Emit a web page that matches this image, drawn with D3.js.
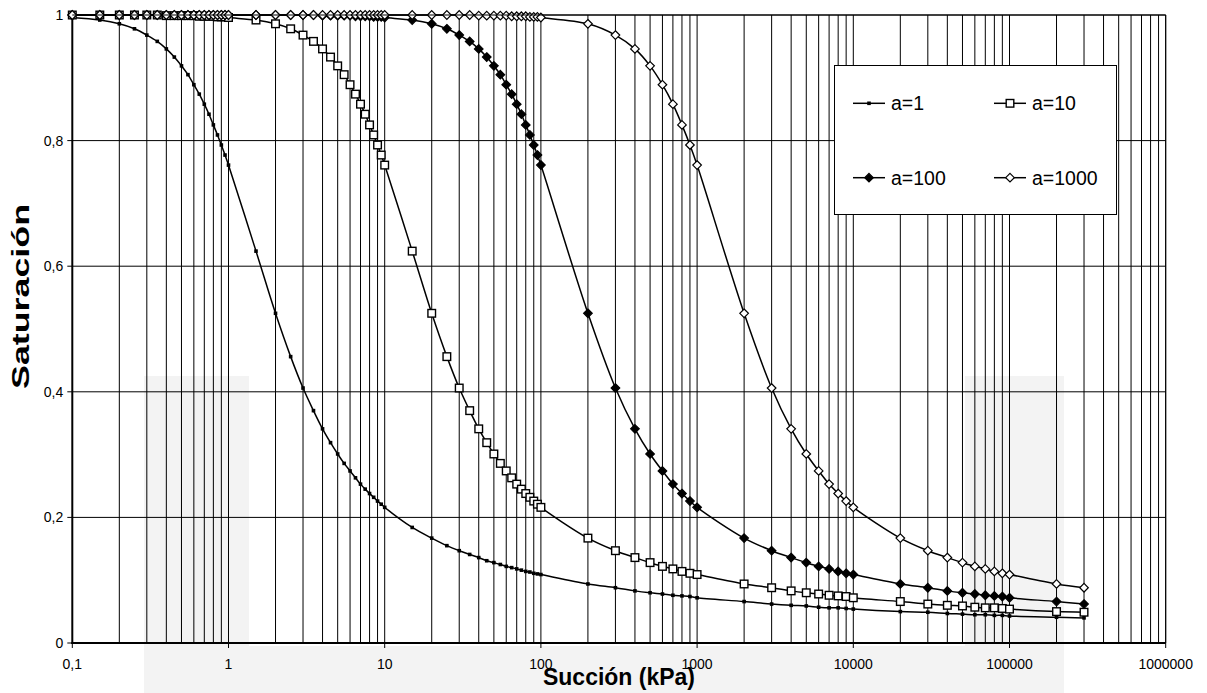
<!DOCTYPE html>
<html lang="es">
<head>
<meta charset="UTF-8">
<title>Saturación vs Succión</title>
<script src="https://d3js.org/d3.v7.min.js"></script>
<style>
  body { margin: 0; background: #fff; }
  svg { display: block; font-family: Arial, "Liberation Sans", sans-serif; }
  .grid line { stroke: #000; stroke-width: 1; }
  .tick-label { font-size: 14px; fill: #000; }
  .title { font-weight: bold; fill: #000; }
  .legend text { font-size: 19.5px; fill: #000; }
</style>
</head>
<body>
<svg id="chart" width="1207" height="693"></svg>
<script>
// suction values (kPa) shared by every curve
const suction = [
  0.1, 0.15, 0.2, 0.25, 0.3, 0.35, 0.4, 0.45, 0.5, 0.55, 0.6, 0.65, 0.7, 0.75, 0.8, 0.85, 0.9, 0.95, 1,
  1.5, 2, 2.5, 3, 3.5, 4, 4.5, 5, 5.5, 6, 6.5, 7, 7.5, 8, 8.5, 9, 9.5, 10,
  15, 20, 25, 30, 35, 40, 45, 50, 55, 60, 65, 70, 75, 80, 85, 90, 95, 100,
  200, 300, 400, 500, 600, 700, 800, 900, 1000,
  2000, 3000, 4000, 5000, 6000, 7000, 8000, 9000, 10000,
  20000, 30000, 40000, 50000, 60000, 70000, 80000, 90000, 100000,
  200000, 300000
];

const sat1 = [
  0.996, 0.992, 0.986, 0.978, 0.968, 0.958, 0.946, 0.933, 0.919, 0.905, 0.889, 0.874, 0.858, 0.842, 0.825, 0.809, 0.793, 0.777, 0.761,
  0.624, 0.525, 0.456, 0.406, 0.370, 0.341, 0.319, 0.301, 0.286, 0.274, 0.263, 0.253, 0.245, 0.238, 0.232, 0.226, 0.221, 0.216,
  0.184, 0.167, 0.155, 0.147, 0.141, 0.136, 0.131, 0.128, 0.125, 0.122, 0.120, 0.118, 0.116, 0.114, 0.113, 0.111, 0.110, 0.109,
  0.094, 0.088, 0.083, 0.080, 0.078, 0.076, 0.075, 0.074, 0.072,
  0.066, 0.062, 0.060, 0.059, 0.057, 0.056, 0.056, 0.055, 0.054,
  0.050, 0.049, 0.047, 0.046, 0.045, 0.045, 0.044, 0.044, 0.043,
  0.041, 0.040
];

const sat10 = [
  1.000, 1.000, 1.000, 1.000, 1.000, 1.000, 0.999, 0.999, 0.999, 0.999, 0.999, 0.998, 0.998, 0.998, 0.998, 0.997, 0.997, 0.997, 0.996,
  0.992, 0.986, 0.978, 0.968, 0.958, 0.946, 0.933, 0.919, 0.905, 0.889, 0.874, 0.858, 0.842, 0.825, 0.809, 0.793, 0.777, 0.761,
  0.624, 0.525, 0.456, 0.406, 0.370, 0.341, 0.319, 0.301, 0.286, 0.274, 0.263, 0.253, 0.245, 0.238, 0.232, 0.226, 0.221, 0.216,
  0.167, 0.147, 0.136, 0.128, 0.122, 0.118, 0.114, 0.111, 0.109,
  0.094, 0.088, 0.083, 0.080, 0.078, 0.076, 0.075, 0.074, 0.072,
  0.066, 0.062, 0.060, 0.059, 0.057, 0.056, 0.056, 0.055, 0.054,
  0.050, 0.049
];

const sat100 = [
  1.000, 1.000, 1.000, 1.000, 1.000, 1.000, 1.000, 1.000, 1.000, 1.000, 1.000, 1.000, 1.000, 1.000, 1.000, 1.000, 1.000, 1.000, 1.000,
  1.000, 1.000, 1.000, 1.000, 1.000, 0.999, 0.999, 0.999, 0.999, 0.999, 0.998, 0.998, 0.998, 0.998, 0.997, 0.997, 0.997, 0.996,
  0.992, 0.986, 0.978, 0.968, 0.958, 0.946, 0.933, 0.919, 0.905, 0.889, 0.874, 0.858, 0.842, 0.825, 0.809, 0.793, 0.777, 0.761,
  0.525, 0.406, 0.341, 0.301, 0.274, 0.253, 0.238, 0.226, 0.216,
  0.167, 0.147, 0.136, 0.128, 0.122, 0.118, 0.114, 0.111, 0.109,
  0.094, 0.088, 0.083, 0.080, 0.078, 0.076, 0.075, 0.074, 0.072,
  0.066, 0.062
];

const sat1000 = [
  1.000, 1.000, 1.000, 1.000, 1.000, 1.000, 1.000, 1.000, 1.000, 1.000, 1.000, 1.000, 1.000, 1.000, 1.000, 1.000, 1.000, 1.000, 1.000,
  1.000, 1.000, 1.000, 1.000, 1.000, 1.000, 1.000, 1.000, 1.000, 1.000, 1.000, 1.000, 1.000, 1.000, 1.000, 1.000, 1.000, 1.000,
  1.000, 1.000, 1.000, 1.000, 1.000, 0.999, 0.999, 0.999, 0.999, 0.999, 0.998, 0.998, 0.998, 0.998, 0.997, 0.997, 0.997, 0.996,
  0.986, 0.968, 0.946, 0.919, 0.889, 0.858, 0.825, 0.793, 0.761,
  0.525, 0.406, 0.341, 0.301, 0.274, 0.253, 0.238, 0.226, 0.216,
  0.167, 0.147, 0.136, 0.128, 0.122, 0.118, 0.114, 0.111, 0.109,
  0.094, 0.088
];

const seriesNames = ["a=1", "a=10", "a=100", "a=1000"];
const seriesValues = [sat1, sat10, sat100, sat1000];
const markerKinds = ["dot", "square", "diamondFilled", "diamondOpen"];

const xTickValues = [0.1, 1, 10, 100, 1000, 10000, 100000, 1000000];
const xTickLabels = ["0,1", "1", "10", "100", "1000", "10000", "100000", "1000000"];
const yTickValues = [0, 0.2, 0.4, 0.6, 0.8, 1];
const yTickLabels = ["0", "0,2", "0,4", "0,6", "0,8", "1"];

const svg = d3.select("#chart");
const plotLeft = 72.3, plotRight = 1165.7, plotTop = 15, plotBottom = 643;

const x = d3.scaleLog().domain([0.1, 1e6]).range([plotLeft, plotRight]);
const y = d3.scaleLinear().domain([0, 1]).range([plotBottom, plotTop]);

// faint watermark in the background
const wm = svg.append("g").attr("fill", "#f3f3f3");
wm.append("rect").attr("x", 144).attr("y", 376).attr("width", 105).attr("height", 317);
wm.append("rect").attr("x", 965).attr("y", 376).attr("width", 99).attr("height", 317);
wm.append("rect").attr("x", 249).attr("y", 646).attr("width", 716).attr("height", 47);

// grid
const grid = svg.append("g").attr("class", "grid");
grid.selectAll(".vx")
  .data(x.ticks().filter(v => v > 0.1 * 1.0001))
  .enter().append("line")
  .attr("x1", d => x(d)).attr("x2", d => x(d))
  .attr("y1", plotTop).attr("y2", plotBottom);
grid.selectAll(".hy")
  .data(yTickValues.filter(v => v > 0))
  .enter().append("line")
  .attr("x1", plotLeft).attr("x2", plotRight)
  .attr("y1", d => y(d)).attr("y2", d => y(d));

// axes lines
svg.append("line").attr("x1", plotLeft).attr("x2", plotLeft).attr("y1", plotTop).attr("y2", plotBottom + 1)
  .attr("stroke", "#000").attr("stroke-width", 2);
svg.append("line").attr("x1", plotLeft - 1).attr("x2", plotRight).attr("y1", plotBottom).attr("y2", plotBottom)
  .attr("stroke", "#000").attr("stroke-width", 2);

// ticks
svg.selectAll(".ytick").data(yTickValues).enter().append("line")
  .attr("x1", plotLeft - 5).attr("x2", plotLeft).attr("y1", d => y(d)).attr("y2", d => y(d))
  .attr("stroke", "#000").attr("stroke-width", 1);
svg.selectAll(".xtick").data(xTickValues).enter().append("line")
  .attr("x1", d => x(d)).attr("x2", d => x(d)).attr("y1", plotBottom).attr("y2", plotBottom + 5)
  .attr("stroke", "#000").attr("stroke-width", 1);

svg.selectAll(".ylab").data(yTickValues).enter().append("text")
  .attr("class", "tick-label")
  .attr("x", plotLeft - 9).attr("y", d => y(d)).attr("dy", "0.35em")
  .attr("text-anchor", "end")
  .text((d, i) => yTickLabels[i]);
svg.selectAll(".xlab").data(xTickValues).enter().append("text")
  .attr("class", "tick-label")
  .attr("x", d => x(d)).attr("y", 669)
  .attr("text-anchor", "middle")
  .text((d, i) => xTickLabels[i]);

// titles
svg.append("text").attr("class", "title")
  .attr("x", (plotLeft + plotRight) / 2).attr("y", 685)
  .attr("text-anchor", "middle").style("font-size", "23px")
  .attr("textLength", 152).attr("lengthAdjust", "spacingAndGlyphs")
  .text("Succión (kPa)");
svg.append("text").attr("class", "title")
  .attr("transform", "translate(29,296.5) rotate(-90)")
  .attr("text-anchor", "middle").style("font-size", "24px")
  .attr("textLength", 185).attr("lengthAdjust", "spacingAndGlyphs")
  .text("Saturación");

// markers
function drawMarker(g, kind) {
  if (kind === "dot") {
    g.append("rect").attr("x", -1.8).attr("y", -1.8).attr("width", 3.6).attr("height", 3.6).attr("fill", "#000");
  } else if (kind === "square") {
    g.append("rect").attr("x", -3.8).attr("y", -3.8).attr("width", 7.6).attr("height", 7.6)
      .attr("fill", "#fff").attr("stroke", "#000").attr("stroke-width", 1.4);
  } else {
    const r = 4.3;
    g.append("path").attr("d", `M0,${-r}L${r},0L0,${r}L${-r},0Z`)
      .attr("fill", kind === "diamondFilled" ? "#000" : "#fff")
      .attr("stroke", "#000").attr("stroke-width", 1.2);
  }
}

const line = d3.line()
  .x(d => x(d[0])).y(d => y(d[1]))
  .curve(d3.curveCatmullRom.alpha(0.5));

seriesValues.forEach((vals, si) => {
  const pts = suction.map((s, i) => [s, vals[i]]);
  const g = svg.append("g");
  g.append("path").datum(pts).attr("d", line)
    .attr("fill", "none").attr("stroke", "#000").attr("stroke-width", 1.5);
  g.selectAll("g.pt").data(pts).enter().append("g")
    .attr("transform", d => `translate(${x(d[0])},${y(d[1])})`)
    .each(function () { drawMarker(d3.select(this), markerKinds[si]); });
});

// plot frame top/right
svg.append("line").attr("x1", plotLeft).attr("x2", plotRight).attr("y1", plotTop).attr("y2", plotTop)
  .attr("stroke", "#000").attr("stroke-width", 1);
svg.append("line").attr("x1", plotRight).attr("x2", plotRight).attr("y1", plotTop).attr("y2", plotBottom)
  .attr("stroke", "#000").attr("stroke-width", 1);

// legend
const lg = svg.append("g").attr("class", "legend");
lg.append("rect").attr("x", 834.5).attr("y", 65.5).attr("width", 282).attr("height", 149)
  .attr("fill", "#fff").attr("stroke", "#000").attr("stroke-width", 1);
const legendPos = [[853, 103.3], [994, 103.3], [853, 177.7], [994, 177.7]];
seriesNames.forEach((name, i) => {
  const [lx, ly] = legendPos[i];
  const e = lg.append("g");
  e.append("line").attr("x1", lx).attr("x2", lx + 32).attr("y1", ly).attr("y2", ly)
    .attr("stroke", "#000").attr("stroke-width", 1.5);
  const m = e.append("g").attr("transform", `translate(${lx + 16},${ly})`);
  drawMarker(m, markerKinds[i]);
  e.append("text").attr("x", lx + 38).attr("y", ly).attr("dy", "0.35em").text(name);
});
</script>
</body>
</html>
